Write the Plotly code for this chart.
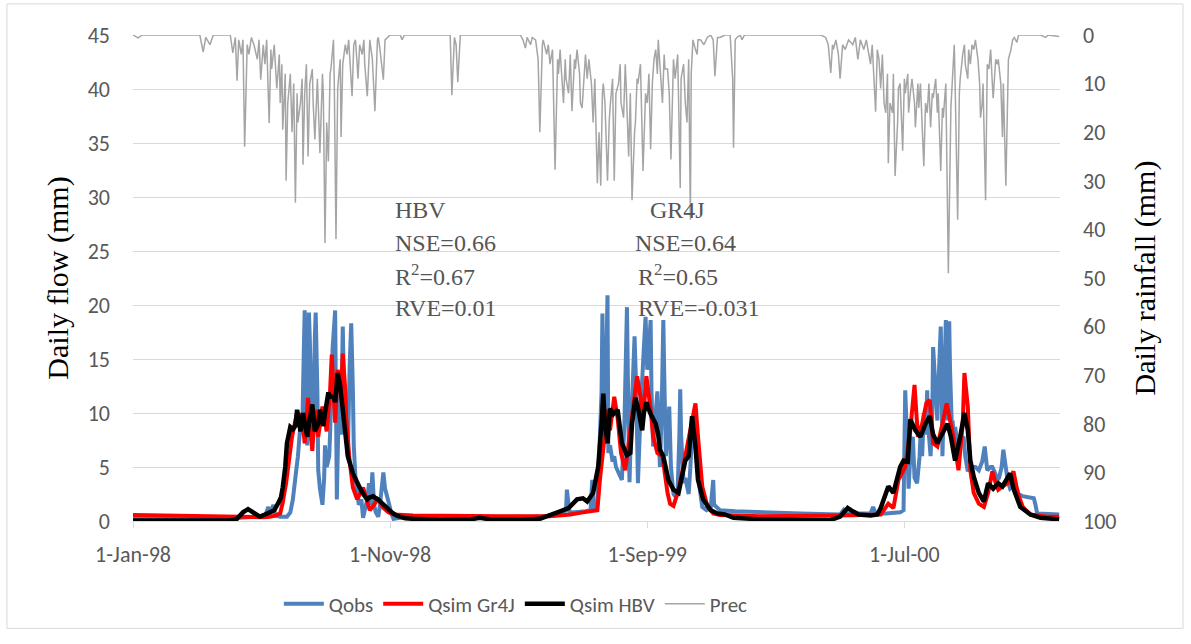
import pandas as pd
import plotly.graph_objects as go

START = pd.Timestamp("1998-01-01")

# ---- x-axis tick labels ----
tick_dates = ["1998-01-01", "1998-11-01", "1999-09-01", "2000-07-01"]
tick_labels = ["1-Jan-98", "1-Nov-98", "1-Sep-99", "1-Jul-00"]

# ---- Observed flow (day offset from 1-Jan-1998, mm) ----
qobs_day = [0, 79, 127, 144, 156, 160, 162, 166, 168, 174, 182, 186, 189, 193, 195, 198, 200, 202, 203,
            205, 206, 207, 208, 209, 211, 212, 213, 215, 216, 218, 219, 221, 224, 226, 227, 229, 232, 233,
            235, 236, 239, 240, 241, 242, 244, 246, 248, 249, 252, 254, 256, 258, 260, 261, 263, 265, 267,
            270, 272, 274, 277, 279, 281, 283, 285, 287, 290, 292, 294, 296, 298, 300, 303, 305, 308, 316,
            340, 481, 499, 505, 512, 513, 516, 523, 535, 541, 543, 545, 549, 551, 554, 555, 557, 559, 561,
            562, 564, 567, 569, 571, 574, 576, 578, 581, 584, 586, 587, 589, 591, 593, 595, 596, 597, 600,
            602, 604, 606, 608, 610, 612, 613, 615, 617, 620, 622, 623, 625, 627, 628, 630, 632, 634, 636,
            639, 641, 644, 646, 647, 648, 651, 653, 657, 659, 662, 665, 667, 670, 673, 678, 683, 685, 686,
            687, 694, 712, 742, 789, 836, 840, 842, 872, 875, 878, 890, 907, 911, 912, 913, 915, 917, 919,
            922, 924, 927, 930, 931, 933, 935, 937, 939, 940, 943, 945, 946, 949, 951, 952, 955, 956, 957,
            959, 961, 962, 963, 964, 965, 966, 968, 969, 971, 972, 975, 976, 978, 982, 984, 987, 989, 992,
            996, 1000, 1002, 1004, 1007, 1009, 1010, 1014, 1016, 1019, 1022, 1024, 1027, 1029, 1032, 1034,
            1037, 1041, 1045, 1047, 1052, 1061, 1065, 1067, 1069, 1095]
qobs_mm = [0.35, 0.3, 0.3, 0.4, 0.4, 1.3, 0.6, 1.5, 0.5, 0.4, 0.4, 0.8, 2.0, 4.7, 6, 9, 8, 16, 19.5,
           12, 7, 12, 19.3, 17, 10, 14, 8, 17, 19.3, 12, 4.7, 3, 1.5, 4, 7, 5, 6, 8,
           12, 16, 19.5, 10, 2, 6, 13, 8, 18, 14, 9, 6, 14, 18.3, 12, 7, 4, 2.7, 1.5,
           2, 0.3, 1, 2, 3.5, 1.5, 4.5, 1.5, 0.8, 0.4, 1.5, 3, 4.5, 3, 2.5, 1.5, 0.8, 0.2, 0.3,
           0.4, 0.4, 0.5, 0.6, 1.0, 2.9, 0.8, 0.8, 0.9, 1.0, 3.8, 1.0, 1.5, 5, 12, 19.2, 8, 12, 20.9,
           6.3, 7, 5.5, 6, 5, 4.5, 4.2, 3.8, 9, 19.8, 8, 3.6, 9, 14, 17.1, 12, 6, 3.5, 10,
           14, 16, 18.9, 14, 16, 18.6, 12, 6.9, 9, 12, 7, 5, 10, 18.6, 14, 6, 8, 10.6, 5,
           2.5, 2.3, 3, 8, 12.2, 8, 3.5, 4, 2.5, 5, 9.4, 7, 5, 3, 1.3, 1.0, 1.2, 2.5, 3.8,
           1.5, 1.0, 0.9, 0.8, 0.7, 0.6, 1.0, 0.7, 0.7, 1.3, 0.7, 0.7, 0.8, 1.0, 5, 12.1, 8, 3, 6,
           7.8, 4, 3.5, 6, 7.8, 6, 10, 8, 12.1, 9, 6, 10, 16.1, 12, 9.3, 12, 18, 14, 6,
           12, 18.6, 14, 9.3, 14, 18.5, 14, 9, 9.3, 7, 8.7, 7, 6.3, 7.5, 7.8, 6, 4.6, 5, 5,
           5, 4.7, 5, 5.5, 6.9, 5, 4.7, 5, 5, 4.5, 3.8, 4, 5, 6.6, 4.5, 3.8,
           3, 3.3, 3, 2.5, 2.3, 2.2, 2.1, 1.5, 0.7, 0.6]

# ---- Simulated flow, GR4J ----
gr4j_day = [0, 32, 79, 127, 153, 162, 168, 174, 177, 181, 183, 186, 188, 192, 194, 198, 200, 203, 207,
            209, 212, 215, 219, 224, 227, 229, 233, 235, 239, 242, 246, 248, 251, 252, 256, 260, 265,
            268, 272, 277, 280, 285, 289, 292, 296, 302, 308, 331, 375, 434, 493, 517, 532, 541, 549,
            552, 556, 561, 564, 569, 573, 577, 582, 586, 591, 596, 600, 603, 607, 612, 615, 620, 626,
            632, 635, 639, 644, 649, 655, 661, 665, 668, 673, 679, 686, 694, 742, 836, 884, 893, 899,
            905, 913, 919, 924, 928, 933, 938, 942, 946, 951, 957, 962, 965, 970, 976, 981, 983, 987,
            990, 994, 1000, 1006, 1011, 1016, 1020, 1023, 1028, 1034, 1041, 1046, 1052, 1061, 1081, 1095]
gr4j_mm = [0.55, 0.5, 0.45, 0.35, 0.35, 0.4, 0.5, 0.7, 1.7, 3.5, 4.7, 6.5, 7.8, 9.3, 10, 9.8, 9.6, 7.2, 11.4,
           9, 6.5, 10.3, 7.8, 10.6, 9, 8.3, 12, 15.4, 9.1, 14, 12, 15.5, 12, 9.6, 5.6, 3.1, 2.0,
           2.5, 3.1, 1.8, 1.0, 1.5, 2.0, 1.7, 1.2, 0.8, 0.6, 0.5, 0.45, 0.45, 0.45, 0.6, 0.8, 0.9, 1.0,
           3.8, 6.9, 10.3, 8.4, 11.5, 9.5, 6.3, 4.7, 6.9, 10.3, 13.4, 11.5, 9.4, 13.4, 10.3, 7.8, 6.3, 6.0,
           2.6, 1.6, 1.4, 2.6, 4.4, 6.9, 9.4, 10.9, 7.8, 3.2, 1.4, 0.7, 0.55, 0.45, 0.5, 0.6, 1.6, 1.2,
           3.8, 5.0, 8.4, 12.6, 7.8, 9.0, 10.9, 11.2, 7.2, 6.9, 9.0, 10.9, 9.7, 7.8, 4.7, 9.0, 13.7, 10.6,
           4.7, 2.6, 1.6, 1.3, 2.6, 4.6, 3.5, 2.9, 3.2, 3.5, 4.6, 2.6, 1.3, 0.6, 0.4, 0.4]

# ---- Simulated flow, HBV ----
hbv_day = [0, 115, 123, 130, 136, 143, 150, 156, 162, 167, 172, 175, 177, 180, 182, 186, 189, 192, 194,
           198, 201, 206, 209, 212, 215, 219, 221, 225, 227, 231, 233, 237, 239, 242, 245, 247, 251, 254,
           260, 265, 268, 273, 277, 280, 284, 287, 290, 295, 300, 306, 312, 322, 331, 363, 399, 410, 422,
           458, 481, 493, 505, 515, 525, 532, 537, 544, 550, 554, 556, 558, 561, 564, 568, 573, 576, 578,
           584, 588, 590, 594, 597, 600, 602, 604, 607, 609, 612, 618, 621, 623, 627, 633, 639, 645, 649,
           653, 657, 659, 661, 665, 668, 674, 683, 691, 700, 710, 718, 742, 789, 825, 836, 845, 851, 858,
           872, 880, 884, 887, 893, 899, 904, 907, 911, 916, 919, 925, 931, 937, 942, 946, 951, 955, 958,
           963, 967, 972, 978, 983, 987, 990, 994, 1000, 1006, 1011, 1017, 1023, 1028, 1034, 1037, 1041,
           1049, 1061, 1073, 1095]
hbv_mm = [0.05, 0.05, 0.2, 0.8, 1.1, 0.7, 0.4, 0.6, 0.8, 1.0, 1.7, 2.2, 3.1, 5, 7.2, 8.7, 8.5, 8.8, 10.3,
          8.3, 10, 7.8, 9.5, 10.8, 8.3, 9, 10.3, 8.8, 10, 11.9, 11.5, 11.5, 11, 13.7, 12.5, 11.1, 8.2, 6,
          4.4, 3.5, 3.1, 2.4, 2.0, 2.2, 2.3, 2.1, 2.0, 1.6, 1.2, 0.8, 0.5, 0.25, 0.2, 0.1, 0.15, 0.3, 0.15,
          0.1, 0.2, 0.5, 0.9, 1.2, 2.0, 2.1, 1.8, 2.6, 5.0, 9, 11.8, 9, 7.2, 10.4, 9.9, 10.3, 8.5, 7.2,
          6.1, 6.3, 9, 11.4, 10.5, 9.5, 8.4, 10, 11.0, 10.5, 9.9, 9.0, 8, 6.6, 6.0, 3.8, 2.9, 2.6, 4.4,
          5.6, 6.0, 8, 9.7, 6.9, 3.8, 2.0, 1.0, 0.7, 0.6, 0.3, 0.25, 0.15, 0.1, 0.1, 0.4, 1.2, 0.9, 0.6,
          0.5, 0.6, 1.2, 1.9, 3.2, 2.6, 4, 5.0, 5.6, 5.5, 9.4, 8.4, 7.8, 9.0, 9.7, 8, 7.2, 7.8, 8.1,
          9.0, 7.8, 5.6, 7.8, 10.0, 8.4, 5.6, 4.1, 2.6, 1.8, 3.5, 3.0, 3.5, 3.2, 4.1, 4.4, 3.0,
          1.3, 0.6, 0.3, 0.15]

# ---- Daily precipitation (secondary, reversed axis) ----
prec_day = [0, 6, 11, 79, 83, 86, 91, 95, 115, 118, 121, 123, 125, 128, 130, 132, 135, 137, 140, 143, 147,
            149, 151, 154, 156, 158, 161, 163, 164, 167, 170, 173, 174, 176, 177, 180, 181, 183, 186, 188,
            190, 192, 194, 195, 198, 200, 201, 203, 205, 207, 209, 212, 213, 215, 218, 219, 221, 224, 225,
            227, 229, 231, 233, 234, 237, 238, 240, 242, 245, 246, 248, 251, 253, 255, 257, 259, 261, 263,
            265, 266, 268, 271, 273, 274, 277, 279, 280, 283, 286, 289, 290, 292, 296, 298, 301, 304, 316,
            318, 321, 375, 377, 380, 382, 384, 387, 458,
            461, 464, 466, 470, 472, 476, 479, 481, 484, 485, 489, 491, 493, 496, 499, 502, 503, 505, 506,
            509, 511, 512, 515, 517, 519, 522, 523, 525, 528, 529, 531, 534, 535, 537, 539, 542, 544, 546,
            549, 551, 553, 555, 556, 558, 561, 563, 564, 567, 569, 571, 574, 576, 577, 580, 582, 583, 586,
            588, 590, 593, 594, 596, 597, 600, 601, 603, 606, 608, 610, 612, 614, 616, 618, 620, 621, 623,
            626, 628, 629, 632, 634, 636, 639, 641, 644, 645, 647, 648, 651, 653, 655, 657, 659, 660, 662,
            665, 667, 668, 671, 675, 679, 683, 686, 688, 691, 694, 700, 706, 709, 710, 712, 714, 718, 720,
            723, 813,
            819, 822, 825, 827, 828, 831, 834, 836, 839, 842, 846, 851, 854, 857, 860, 864, 867, 869, 872,
            874, 878, 880, 882, 884, 886, 888, 890, 892, 893, 895, 898, 899, 901, 904, 905, 907, 910, 912,
            913, 916, 917, 919, 921, 924, 925, 928, 929, 931, 932, 935, 937, 939, 941, 943, 945, 946, 949,
            951, 952, 955, 957, 958, 961, 962, 964, 967, 969, 971, 972, 975, 977, 978, 981, 983, 984, 987,
            988, 990, 992, 994, 996, 999, 1001, 1002, 1004, 1005, 1008, 1010, 1012, 1014, 1016, 1017, 1020,
            1022, 1023, 1026, 1028, 1029, 1032, 1034, 1035, 1038, 1040, 1042, 1045, 1047, 1073, 1079, 1082,
            1095]
prec_mm = [0, 0.6, 0, 0, 3.5, 0.5, 2, 0, 0, 3.7, 0.5, 9.4, 1, 4, 1, 23, 2, 4, 0.5, 2, 5,
           1, 9.2, 2, 6, 1, 18.1, 3, 7, 2, 11, 4, 14, 6, 19.5, 8, 30, 14, 8, 20,
           10, 34.5, 12, 18, 14, 9, 26.7, 12, 6, 25, 10, 7, 14, 21.5, 9, 14, 24.3, 8, 12,
           42.8, 18, 26, 8, 7, 1, 10, 42, 11, 5, 21, 6, 2, 4, 1, 6, 12.6, 2, 1,
           6, 9, 2, 4, 1, 6, 12.6, 2, 1, 5, 15.7, 1, 0.5, 3, 9.2, 1, 0.5, 0, 0,
           1, 0, 0, 12.4, 0.5, 2, 9.7, 0, 0,
           1, 2.7, 0.5, 2, 0.5, 1, 5, 20, 2, 1, 4, 2, 6, 3, 27.7, 5, 8, 3, 6,
           14, 5, 9, 12, 4, 15.7, 5, 7, 3, 8, 14, 15, 6, 4, 9, 5, 10, 18, 9,
           30.5, 20, 31, 12, 10, 14, 30, 18, 15, 9, 30, 12, 10, 6, 14, 17, 6, 10, 25,
           12, 34, 20, 18, 9, 10, 6, 15, 28, 12, 14, 8, 23.5, 10, 5, 3, 8, 1, 6,
           14, 4, 7, 7, 12, 25.6, 5, 9, 4, 13, 31.5, 9, 6, 14, 18, 5, 38, 8, 1,
           3, 4, 1, 1, 2, 0.5, 0, 1, 8.5, 0.5, 0.5, 0, 0, 9, 23.2, 1, 0.5, 0, 1,
           0, 0,
           0.5, 2, 7.8, 2, 3, 1, 4, 9, 2, 3, 1, 2, 0.5, 5, 1, 3, 1, 3, 6,
           2, 15.8, 3, 5, 11, 4, 14, 16, 8, 26.4, 14, 16, 8, 29, 18, 11, 10, 23.8, 9,
           12, 8, 16, 12, 9, 14, 19, 10, 15, 10, 14, 27, 14, 16, 10, 19, 12, 13, 9,
           16, 12, 28, 15, 17, 10, 20, 49, 15, 9, 2, 10, 38, 12, 9, 4, 2, 6, 9,
           3, 6, 2, 3, 1, 5, 10, 17, 14, 10, 34, 6, 7, 3, 10, 13, 5,
           6, 5, 10, 21, 10, 31, 7, 5, 3, 1, 0.5, 1.5, 0, 0, 0.5, 0,
           0.3]


def to_dates(days):
    return [START + pd.Timedelta(days=d) for d in days]


GRID = "#D9D9D9"
TXT = "#595959"
SANS = "Carlito, Calibri, Liberation Sans Narrow, Lato, sans-serif"
SERIF = "Liberation Serif, Times New Roman, serif"

fig = go.Figure()
fig.add_trace(go.Scatter(x=to_dates(qobs_day), y=qobs_mm, mode="lines", name="Qobs",
                         line=dict(color="#4F81BD", width=4)))
fig.add_trace(go.Scatter(x=to_dates(gr4j_day), y=gr4j_mm, mode="lines", name="Qsim Gr4J",
                         line=dict(color="#FF0000", width=4)))
fig.add_trace(go.Scatter(x=to_dates(hbv_day), y=hbv_mm, mode="lines", name="Qsim HBV",
                         line=dict(color="#000000", width=4.5)))
fig.add_trace(go.Scatter(x=to_dates(prec_day), y=prec_mm, mode="lines", name="Prec", yaxis="y2",
                         line=dict(color="#A5A5A5", width=1.5)))

fig.update_layout(
    width=1191, height=644,
    margin=dict(l=133, r=131, t=35, b=123),
    paper_bgcolor="white", plot_bgcolor="white",
    font=dict(family=SANS, color=TXT, size=22),
    showlegend=True,
    legend=dict(orientation="h", x=0.413, xanchor="center", y=-0.171, yanchor="middle",
                font=dict(family=SANS, size=21, color=TXT), bgcolor="rgba(0,0,0,0)",
                itemwidth=40, tracegroupgap=0),
    xaxis=dict(type="date", range=[START, START + pd.Timedelta(days=1096)],
               tickvals=tick_dates, ticktext=tick_labels,
               showgrid=False, zeroline=False, showline=True, linecolor=GRID, linewidth=1,
               ticks="outside", ticklen=6, tickcolor=GRID,
               tickfont=dict(family=SANS, size=22, color=TXT), ticklabelstandoff=8),
    yaxis=dict(range=[0, 45], dtick=5, tick0=0, showgrid=True, gridcolor=GRID, gridwidth=1,
               zeroline=False, showline=False, ticks="",
               tickfont=dict(family=SANS, size=22, color=TXT), ticklabelstandoff=22,
               title=dict(text="Daily flow (mm)", font=dict(family=SERIF, size=30, color="#000000"),
                          standoff=10)),
    yaxis2=dict(overlaying="y", side="right", range=[100, 0], dtick=10, tick0=0,
                showgrid=False, zeroline=False, showline=False, ticks="",
                tickfont=dict(family=SANS, size=22, color=TXT), ticklabelstandoff=22,
                title=dict(text="Daily rainfall (mm)", font=dict(family=SERIF, size=30, color="#000000"),
                           standoff=18)),
)

# chart-area border
fig.add_shape(type="rect", xref="paper", yref="paper", x0=-0.136, x1=1.1327, y0=-0.221, y1=1.064,
              line=dict(color=GRID, width=1), fillcolor="rgba(0,0,0,0)", layer="below")

# model statistics text
ann_font = dict(family=SERIF, size=24, color="#555555")
hbv_lines = ["HBV", "NSE=0.66", "R<sup>2</sup>=0.67", "RVE=0.01"]
gr4j_lines = ["GR4J", "NSE=0.64", "R<sup>2</sup>=0.65", "RVE=-0.031"]
line_y = [0.640, 0.572, 0.506, 0.438]
gr4j_x = [0.5556, 0.5394, 0.5426, 0.5426]
for txt, yy in zip(hbv_lines, line_y):
    fig.add_annotation(text=txt, xref="paper", yref="paper", x=0.2805, y=yy, xanchor="left",
                       yanchor="middle", showarrow=False, font=ann_font)
for txt, yy, xx in zip(gr4j_lines, line_y, gr4j_x):
    fig.add_annotation(text=txt, xref="paper", yref="paper", x=xx, y=yy, xanchor="left",
                       yanchor="middle", showarrow=False, font=ann_font)

fig.write_html("out.html")
